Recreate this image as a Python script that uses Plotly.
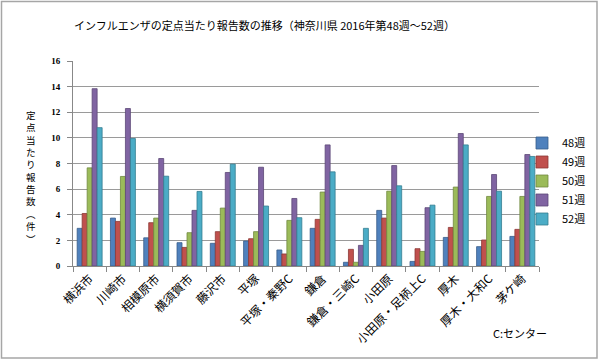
import plotly.graph_objects as go

categories = ["横浜市", "川崎市", "相模原市", "横須賀市", "藤沢市", "平塚", "平塚・秦野C",
              "鎌倉", "鎌倉・三崎C", "小田原", "小田原・足柄上C", "厚木", "厚木・大和C", "茅ケ崎"]
series_names = ["48週", "49週", "50週", "51週", "52週"]
w48 = [2.94, 3.74, 2.20, 1.82, 1.77, 1.95, 1.25, 2.94, 0.29, 4.34, 0.36, 2.23, 1.51, 2.31]
w49 = [4.10, 3.48, 3.38, 1.45, 2.68, 2.13, 0.94, 3.64, 1.30, 3.74, 1.35, 3.01, 2.03, 2.86]
w50 = [7.66, 6.99, 3.74, 2.60, 4.52, 2.68, 3.56, 5.77, 0.29, 5.84, 1.14, 6.16, 5.43, 5.43]
w51 = [13.84, 12.29, 8.39, 4.34, 7.30, 7.71, 5.27, 9.45, 1.61, 7.84, 4.55, 10.34, 7.14, 8.70]
w52 = [10.80, 9.95, 7.01, 5.82, 7.95, 4.68, 3.77, 7.35, 2.94, 6.26, 4.75, 9.45, 5.84, 8.55]
y_ticks = [0, 2, 4, 6, 8, 10, 12, 14, 16]

title_text = "インフルエンザの定点当たり報告数の推移（神奈川県 2016年第48週～52週）"
y_title_chars = ["定", "点", "当", "た", "り", "報", "告", "数", "︵", "件", "︶"]
note_text = "C:センター"

colors = ["#4F81BD", "#C0504D", "#9BBB59", "#8064A2", "#4BACC6"]
edges = ["#385D8A", "#8C3836", "#71893F", "#5C4776", "#357D91"]

FONT = "Noto Sans CJK JP"
W, H = 600, 362
L, R, T, B = 73, 61, 61, 96
pw, ph = W - L - R, H - T - B

def px_x(p):
    return (p - L) / pw

def px_y(p):
    return (H - B - p) / ph

fig = go.Figure()
for name, vals, c, e in zip(series_names, [w48, w49, w50, w51, w52], colors, edges):
    fig.add_trace(go.Bar(x=categories, y=vals, name=name,
                         marker=dict(color=c, line=dict(color=e, width=0.8))))

fig.update_layout(
    width=W, height=H,
    margin=dict(l=L, r=R, t=T, b=B, autoexpand=False),
    paper_bgcolor="white", plot_bgcolor="white",
    barmode="group", bargap=0.25, bargroupgap=0,
    font=dict(family=FONT, color="black"),
    showlegend=True,
    legend=dict(x=px_x(522), y=px_y(181), xanchor="left", yanchor="middle",
                font=dict(size=11, family=FONT), bgcolor="rgba(0,0,0,0)",
                itemwidth=30, tracegroupgap=0),
    xaxis=dict(type="category", tickangle=-45, tickfont=dict(size=12, family=FONT),
               showline=True, linecolor="#888888", linewidth=1,
               ticks="outside", tickson="boundaries", ticklen=5, tickcolor="#888888",
               showgrid=False),
    yaxis=dict(range=[0, 16], tickvals=y_ticks, ticktext=[str(v) for v in y_ticks],
               tickfont=dict(size=9, family="Liberation Serif", weight="bold"),
               ticklabelstandoff=5,
               showline=True, linecolor="#888888", linewidth=1,
               ticks="outside", ticklen=5, tickcolor="#888888",
               showgrid=True, gridcolor="#9a9a9a", gridwidth=1, zeroline=False),
)

annotations = [
    dict(text=title_text, x=px_x(264), y=px_y(25), xref="paper", yref="paper",
         showarrow=False, font=dict(size=11, family=FONT), xanchor="center", yanchor="middle"),
    dict(text=note_text, x=px_x(520), y=px_y(333), xref="paper", yref="paper",
         showarrow=False, font=dict(size=11, family=FONT), xanchor="center", yanchor="middle"),
    dict(text="<br>".join(y_title_chars), x=px_x(31), y=px_y(106), xref="paper", yref="paper",
         showarrow=False, font=dict(size=9.5, family=FONT), align="center",
         xanchor="center", yanchor="top"),
]
fig.update_layout(annotations=annotations)

fig.add_shape(type="rect", xref="paper", yref="paper",
              x0=px_x(1.5), x1=px_x(597), y0=px_y(358), y1=px_y(1.5),
              line=dict(color="#a6a6a6", width=1.5), fillcolor="rgba(0,0,0,0)", layer="below")

fig.write_html("out.html", config={"displayModeBar": False},
               post_script="document.body.style.margin='0';")
